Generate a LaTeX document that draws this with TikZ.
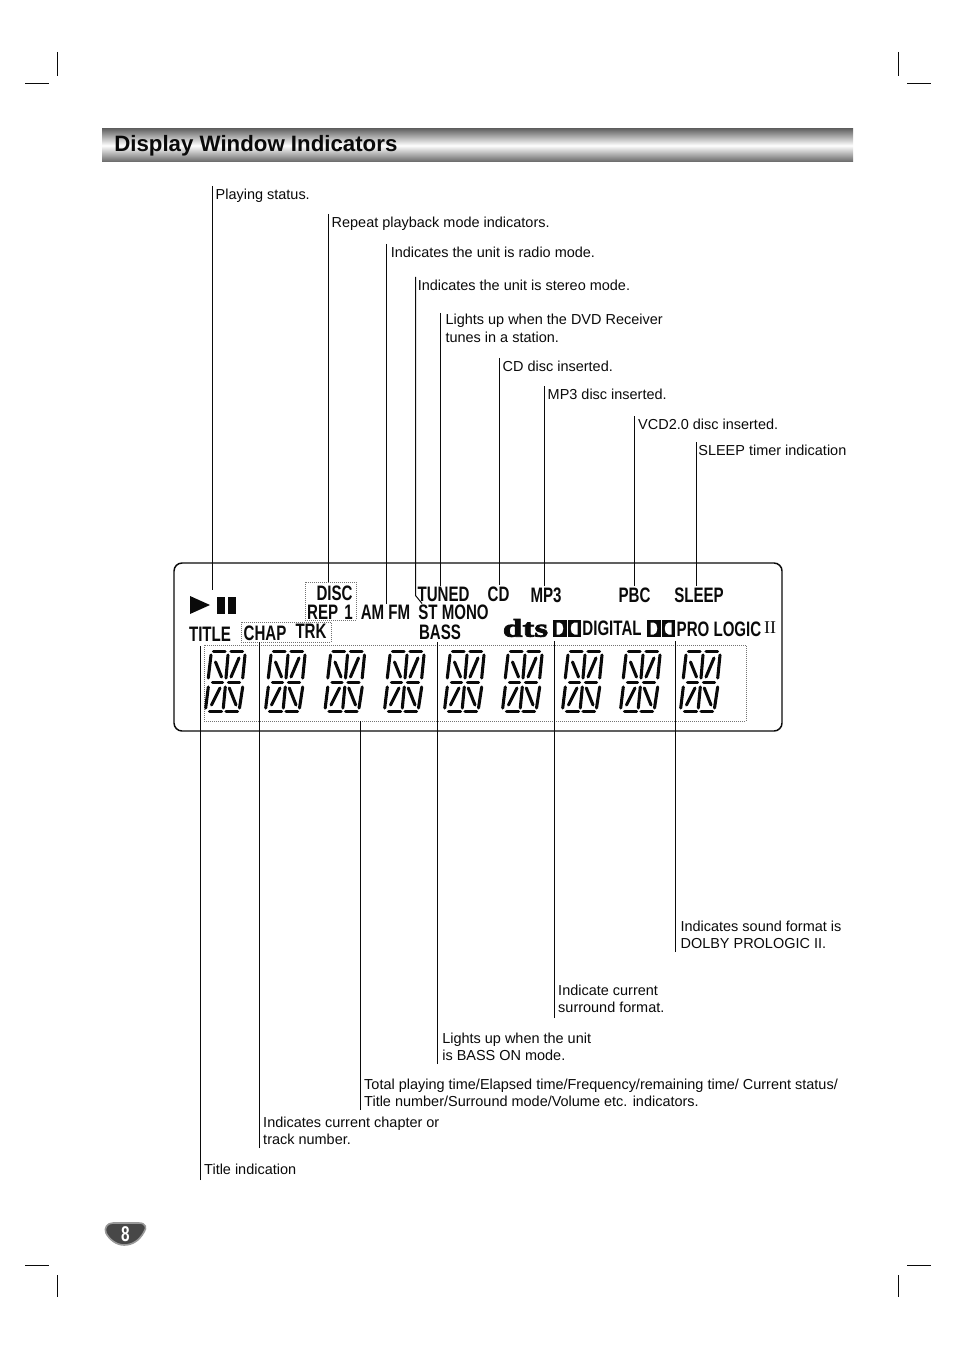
\documentclass[tikz,border=0pt]{standalone}
\usepackage{fontspec}
\setmainfont{Liberation Sans}
\newfontfamily\lcdfont[FakeStretch=.72]{Liberation Sans}
\newfontfamily\dtsfont[FakeStretch=1.4,FakeBold=3]{Liberation Serif}
\newfontfamily\romfont{Liberation Serif}
\definecolor{ink}{HTML}{0A0A0A}
\tikzset{
digit/.pic={\foreach \xa/\ya/\xb/\yb in {13.5/11.7/25/11.7,31/11.7/42.5/11.7,11/15/8.3/38,28/15/26/38,45/15/42.7/38,15.5/22/21.5/37,39/18/31/37,12.5/42.3/22.5/42.3,28.5/42.3/39.5/42.3,8.3/47/5.7/68,25.3/47/23.3/68,42.7/47/39.5/68,20/48/11.5/65,29.3/48/36/65,9.5/71.7/21.5/71.7,26/71.7/37.5/71.7}{\draw[seg](\xa,\ya)--(\xb,\yb);}},
ddmark/.pic={\fill[white](-10.5,-6)--(-7.5,-6)..controls(-2.5,-6)and(-2.5,6)..(-7.5,6)--(-10.5,6)--cycle;\fill[white](10.5,-6)--(7.5,-6)..controls(2.5,-6)and(2.5,6)..(7.5,6)--(10.5,6)--cycle;\draw[white,line width=.7pt](0,-9)--(0,9);}
}
\begin{document}
\begin{tikzpicture}[x=.75pt,y=-.75pt,text=ink,
lab/.style={anchor=north west,inner xsep=2.2pt,inner ysep=.8pt,align=left,font=\fontsize{10.85}{12.75}\selectfont,execute at begin node=\strut},
labb/.style={anchor=south west,inner xsep=2.6pt,inner ysep=0pt,align=left,font=\fontsize{10.85}{12.75}\selectfont,execute at end node=\rule[-2.2pt]{0pt}{2.2pt}},
ind/.style={inner sep=1pt,font=\lcdfont\bfseries\fontsize{15.7}{16}\selectfont},
dotbox/.style={draw=black!55,densely dotted,line width=.5pt},
ddlogo/.style={fill=ink,minimum width=21pt,minimum height=12.75pt,inner sep=0pt,outer ysep=3pt},
lead/.style={draw=ink,line width=.75pt},
crop/.style={draw=ink,line width=.6pt},
seg/.style={draw=ink,line width=2.3pt,line cap=round}]
\useasboundingbox(0,0)rectangle(954,1351);
\foreach \x in {57.5,898.5}{\draw[crop](\x,52)--(\x,76);\draw[crop](\x,1275)--(\x,1297);}
\foreach \x in {25,907}{\draw[crop](\x,83.5)--++(24,0);\draw[crop](\x,1265.5)--++(24,0);}
\node[minimum width=563.25pt,minimum height=24.75pt,inner sep=0pt,top color=black!60,bottom color=black!60,middle color=white](titlebar)at(477.5,145.5){};
\node[anchor=west,inner sep=0pt,font=\bfseries\fontsize{16.7}{18}\selectfont](titletext)at(114,145.5){Display Window Indicators};
\node[draw=ink,line width=1.1pt,rounded corners=6pt,minimum width=456pt,minimum height=126pt,inner sep=0pt](lcd)at(478,647){};
\node[dotbox,minimum width=406.5pt,minimum height=57pt,inner sep=0pt](digits)at(475,683){};
\node[dotbox,minimum width=38.25pt,minimum height=28.5pt,inner sep=0pt](discbox)at(330.5,601){};
\node[dotbox,minimum width=67.5pt,minimum height=15pt,inner sep=0pt](chapbox)at(286,632){};
\foreach \dx in {0,60,119.5,179,239,297,357,415,475}{\pic at(200+\dx,640){digit};}
\node[minimum width=34.5pt,minimum height=22.5pt,inner sep=0pt](playpause)at(212.5,605){};
\fill[ink](190,596)--(210,605)--(190,614)--cycle;
\fill[ink](217,597)rectangle(225,614);\fill[ink](228,597)rectangle(236,614);
\node[ind](disc)at(334.5,593.5){DISC};
\node[ind](rep)at(330,612.5){REP\hspace{1.5pt} 1};
\node[ind](amfm)at(385.5,612.5){AM FM};
\node[ind](tuned)at(443.5,594.5){TUNED};
\node[ind](stmono)at(453.5,612.5){ST MONO};
\node[ind](bass)at(440,632.5){BASS};
\node[ind](cd)at(498.5,594.5){CD};
\node[ind](mpthree)at(546,595.5){MP3};
\node[ind](pbc)at(634.5,595.5){PBC};
\node[ind](sleep)at(699,595.5){SLEEP};
\node[ind,outer ysep=2pt](title)at(210,634.5){TITLE};
\node[ind](chap)at(265,633){CHAP};
\node[ind](trk)at(311,631.5){TRK};
\node[inner sep=0pt,font=\dtsfont\bfseries\fontsize{19}{19}\selectfont](dts)at(525.5,628){dts};
\node[ddlogo](dda)at(567,628.5){};
\node[ind](digital)at(612,628){DIGITAL};
\node[ddlogo](ddb)at(661,628.5){};
\node[ind](prologic)at(719,629){PRO LOGIC};
\node[inner sep=0pt,font=\romfont\fontsize{13.5}{14}\selectfont](two)at(770,627.5){II};
\foreach \n in {dda,ddb}{\pic at(\n){ddmark};}
\node[lab](lplay)at(212.5,186){Playing status.};
\node[lab](lrep)at(328.5,214){Repeat playback mode indicators.};
\node[lab,inner xsep=3pt](lradio)at(386.5,244){Indicates the unit is radio mode.};
\node[lab,inner xsep=1.5pt](lst)at(415.5,277){Indicates the unit is stereo mode.};
\node[lab,inner xsep=3.6pt,font=\fontsize{10.85}{13.4}\selectfont](ltuned)at(440.5,313){Lights up when the DVD Receiver\\tunes in a station.};
\node[lab](lcd-l)at(499.5,358){CD disc inserted.};
\node[lab](lmp)at(544.5,386){MP3 disc inserted.};
\node[lab,inner xsep=2.6pt](lvcd)at(634.5,416){VCD2.0 disc inserted.};
\node[lab,inner xsep=1.2pt](lsleep)at(696.5,442){SLEEP timer indication};
\node[labb,inner ysep=1.5pt](ltitle)at(200.5,1180){Title indication};
\node[labb](lchap)at(259.5,1148){Indicates current chapter or\\track number.};
\node[labb](ltotal)at(360.5,1110){Total playing time/Elapsed time/Frequency/remaining time/ Current status/\\Title number/Surround mode/Volume etc. indicators.};
\node[labb,inner xsep=3.4pt](lbass)at(437.5,1064){Lights up when the unit\\is BASS ON mode.};
\node[labb,inner ysep=1.5pt](lsur)at(554.5,1018){Indicate current\\surround format.};
\node[labb,inner xsep=3.6pt](ldolby)at(675.5,952){Indicates sound format is\\DOLBY PROLOGIC II.};
\draw[lead](lplay.north west)--(lplay.north west|-playpause.north);
\draw[lead](lrep.north west)--(lrep.north west|-discbox.north);
\draw[lead](lradio.north west)--(lradio.north west|-amfm.north);
\draw[lead](lst.north west)--([yshift=6pt]lst.north west|-stmono.north)--([xshift=4pt]stmono.north west);
\draw[lead](ltuned.north west)--(ltuned.north west|-tuned.north);
\draw[lead](lcd-l.north west)--(lcd-l.north west|-cd.north);
\draw[lead](lmp.north west)--(lmp.north west|-mpthree.north);
\draw[lead](lvcd.north west)--(lvcd.north west|-pbc.north);
\draw[lead](lsleep.north west)--(lsleep.north west|-sleep.north);
\draw[lead](ltitle.south west)--(ltitle.south west|-title.south);
\draw[lead](lchap.south west)--(lchap.south west|-chapbox.south);
\draw[lead](ltotal.south west)--(ltotal.south west|-digits.south);
\draw[lead](lbass.south west)--(lbass.south west|-bass.south);
\draw[lead](lsur.south west)--(lsur.south west|-dda.south);
\draw[lead](ldolby.south west)--(ldolby.south west|-ddb.south);
\draw[draw=black!40,line width=1.2pt,fill=black!72](113,1223)--(139,1223)..controls(146,1223)and(147,1228)..(144,1232)..controls(139,1241)and(132,1245)..(124,1245)..controls(116,1245)and(109,1239)..(106,1233)..controls(104,1228)and(107,1223)..(113,1223)--cycle;
\node[inner sep=0pt,text=white,font=\lcdfont\bfseries\fontsize{16}{16}\selectfont](pagenum)at(125.5,1234){8};
\end{tikzpicture}
\end{document}
